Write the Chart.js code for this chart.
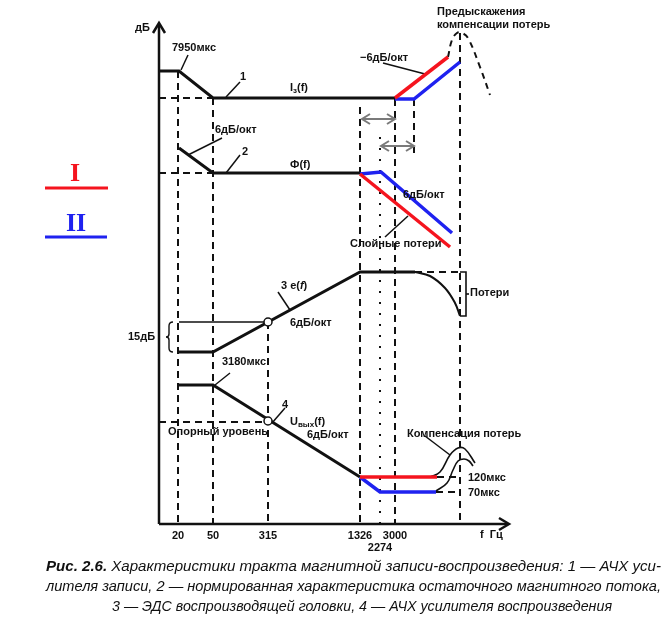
<!DOCTYPE html>
<html><head><meta charset="utf-8">
<script src="https://cdn.jsdelivr.net/npm/chart.js@4"></script>
<style>html,body{margin:0;padding:0;background:#fff}#wrap{width:668px;height:627px;position:relative}canvas{display:block}</style>
</head><body><div id="wrap"><canvas id="c" width="668" height="627"></canvas></div>
<script>
// ---- frequency marks (schematic x positions) ----
const freqLabels = ['20','50','315','1326','2274','3000'];
const freqPos    = [19, 54, 109, 201, 221, 236];

// ---- curve 1: record amplifier response I_з(f) ----
const c1      = [[0,453],[20,453],[54,426],[236,426]];
const c1Ref   = [[0,426],[54,426]];
const c1Red   = [[236,426],[289,467]];
const c1Blue  = [[236,425],[255,425],[301,462]];
const preEmph = [[289,467],[293,484],[298,491],[303,491],[309,486],[321,457],[331,429]];

// ---- curve 2: residual flux Ф(f) ----
const c2      = [[20,376],[54,351],[201,351]];
const c2Ref   = [[0,351],[54,351]];
const c2Blue  = [[201,350],[222,352],[293,291]];
const c2Red   = [[201,350],[291,277]];

// ---- curve 3: head EMF e(f) ----
const c3      = [[20,172],[54,172],[201,252],[256,252]];
const c3Loss  = [[256,252],[271,248],[286,236],[296,221],[301,208]];
const c3Ideal = [[256,252],[301,252]];
const c3Brace = [[301,252],[307,252],[307,208],[301,208]];
const c3Nub   = [[307,230],[310,230]];
const c3Level = [[20,202],[109,202]];

// ---- curve 4: playback amplifier U_вых(f) ----
const c4        = [[20,139],[54,139],[201,47]];
const c4Red     = [[201,47],[278,47]];
const c4Blue    = [[201,47],[221,32],[277,32]];
const c4RedDash = [[278,47],[298,47]];
const c4BlueDash= [[277,32],[298,32]];
const refLevel  = [[0,102],[109,102]];
const comp120   = [[271,47],[281,52],[291,69],[299,76],[306,75],[316,61]];
const comp70    = [[277,33],[288,41],[294,54],[299,63],[305,65],[310,63],[314,58]];
const markers   = [[109,202],[109,103]];

// ---- guide lines [x, yTop, yBottom] ----
const guides = [[19,453,0],[54,426,0],[109,202,0],[201,417,0],[236,425,0],[255,425,371],[301,491,0]];
const guide2274 = [[221,387],[221,0]];
const spans = [[203,236,405],[222,255,378]];

// ---- leader lines ----
const leaders = [
  [[29,469],[22,454]], [[81,442],[67,427]], [[63,386],[29,369]], [[81,369],[67,351]],
  [[224,461],[266,450]], [[226,287],[249,308]], [[119,232],[131,214]], [[56,139],[71,151]],
  [[113,101],[126,116]], [[266,88],[291,69]]
];

const RED = '#f5141e', BLUE = '#1f22f0', BLK = '#111';
const pts = a => a.map(p => ({x:p[0], y:p[1]}));
function ds(data, color, width, dash, tension){
  return {data: pts(data), borderColor: color, borderWidth: width, borderDash: dash || [],
    showLine: true, pointRadius: 0, tension: tension || 0, clip: false, fill: false,
    borderCapStyle: 'butt', borderJoinStyle: 'miter'};
}
const datasets = [];
datasets.push({data: pts(markers), showLine:false, pointRadius:4, pointBorderWidth:1.5,
  pointBackgroundColor:'#fff', pointBorderColor:BLK, clip:false});
[c1Red, c2Red, c4Red].forEach(d => datasets.push(ds(d, RED, 3.5)));
[c1Blue, c2Blue, c4Blue].forEach(d => datasets.push(ds(d, BLUE, 3.5)));
[c1, c2, c3, c4].forEach(d => datasets.push(ds(d, BLK, 3)));
datasets.push(ds(c3Loss, BLK, 2, null, 0.4));
datasets.push(ds(comp120, BLK, 1.6, null, 0.4));
datasets.push(ds(comp70, BLK, 1.6, null, 0.4));
datasets.push(ds(preEmph, BLK, 2, [6,5], 0.4));
[c1Ref, c2Ref, c3Ideal, refLevel, c4RedDash, c4BlueDash].forEach(d => datasets.push(ds(d, BLK, 2, [7,5])));
datasets.push(ds(c3Brace, BLK, 1.6));
datasets.push(ds(c3Nub, BLK, 1.6));
datasets.push(ds(c3Level, BLK, 1.6));
guides.forEach(g => datasets.push(ds([[g[0],g[1]],[g[0],g[2]]], BLK, 2, [7,5])));
datasets.push(ds(guide2274, BLK, 2, [2,9]));
leaders.forEach(l => datasets.push(ds(l, BLK, 1.5)));

const FONT = '"Liberation Sans", Arial, sans-serif';
const notes = [
  {x:-9,  y:496, r:[{t:'дБ'}], a:'right'},
  {x:13,  y:476, r:[{t:'7950мкс'}]},
  {x:84,  y:447, r:[{t:'1'}], a:'center'},
  {x:131, y:436, r:[{t:'I'},{t:'з',sub:1},{t:'(f)'}]},
  {x:56,  y:394, r:[{t:'6дБ/окт'}]},
  {x:86,  y:372, r:[{t:'2'}], a:'center'},
  {x:131, y:359, r:[{t:'Ф(f)'}]},
  {x:201, y:466, r:[{t:'−6дБ/окт'}]},
  {x:278, y:512, r:[{t:'Предыскажения'}]},
  {x:278, y:499, r:[{t:'компенсации потерь'}]},
  {x:244, y:329, r:[{t:'6дБ/окт'}]},
  {x:191, y:280, r:[{t:'Слойные потери'}]},
  {x:122, y:238, r:[{t:'3 e('},{t:'f',it:1},{t:')'}]},
  {x:131, y:201, r:[{t:'6дБ/окт'}]},
  {x:311, y:231, r:[{t:'Потери'}]},
  {x:-31, y:187, r:[{t:'15дБ'}]},
  {x:63,  y:162, r:[{t:'3180мкс'}]},
  {x:126, y:119, r:[{t:'4'}], a:'center'},
  {x:131, y:102, r:[{t:'U'},{t:'вых',sub:1},{t:'(f)'}]},
  {x:148, y:89,  r:[{t:'6дБ/окт'}]},
  {x:9,   y:92,  r:[{t:'Опорный уровень'}]},
  {x:248, y:90,  r:[{t:'Компенсация потерь'}]},
  {x:309, y:46,  r:[{t:'120мкс'}]},
  {x:309, y:31,  r:[{t:'70мкс'}]},
  {x:321, y:-11, r:[{t:'f  Гц'}]}
];
const captionLines = [
  {runs:[{t:'Рис. 2.6.', b:1},{t:' Характеристики тракта магнитной записи-воспроизведения: 1 — АЧХ уси-'}], x0:46, x1:661, y:567},
  {runs:[{t:'лителя записи, 2 — нормированная характеристика остаточного магнитного потока,'}], x0:46, x1:661, y:587},
  {runs:[{t:'3 — ЭДС воспроизводящей головки, 4 — АЧХ усилителя воспроизведения'}], x0:112, x1:612, y:607}
];

function runFont(r, size){
  return (r.it ? 'italic ' : '') + 'bold ' + (r.sub ? Math.round(size*0.7) : size) + 'px ' + FONT;
}
function drawRuns(ctx, runs, x, y, align, size){
  let w = 0;
  runs.forEach(r => { ctx.font = runFont(r,size); w += ctx.measureText(r.t).width; });
  let cx = align === 'center' ? x - w/2 : align === 'right' ? x - w : x;
  ctx.textBaseline = 'middle'; ctx.textAlign = 'left';
  runs.forEach(r => { ctx.font = runFont(r,size); ctx.fillText(r.t, cx, y + (r.sub ? 3 : 0)); cx += ctx.measureText(r.t).width; });
}
function chevron(ctx, tx, ty, dx, dy, len, half){
  const nx = -dy, ny = dx;
  ctx.beginPath();
  ctx.moveTo(tx - dx*len + nx*half, ty - dy*len + ny*half);
  ctx.lineTo(tx, ty);
  ctx.lineTo(tx - dx*len - nx*half, ty - dy*len - ny*half);
  ctx.stroke();
}

const deco = {
  id:'deco',
  afterDatasetsDraw(chart){
    const ctx = chart.ctx, xs = chart.scales.x, ys = chart.scales.y;
    const X = v => xs.getPixelForValue(v), Y = v => ys.getPixelForValue(v);
    ctx.save();
    // axes
    ctx.strokeStyle = BLK; ctx.lineWidth = 2.5; ctx.setLineDash([]);
    ctx.beginPath(); ctx.moveTo(X(0), Y(0)); ctx.lineTo(X(0), Y(500)); ctx.stroke();
    ctx.beginPath(); ctx.moveTo(X(0), Y(0)); ctx.lineTo(X(349), Y(0)); ctx.stroke();
    chevron(ctx, X(0), Y(500)-1, 0, -1, 10, 6);
    chevron(ctx, X(349)+1, Y(0), 1, 0, 10, 6);
    // gray double arrows
    ctx.strokeStyle = '#7a7a7a'; ctx.lineWidth = 2;
    spans.forEach(s => {
      ctx.beginPath(); ctx.moveTo(X(s[0]), Y(s[2])); ctx.lineTo(X(s[1]), Y(s[2])); ctx.stroke();
      chevron(ctx, X(s[0]), Y(s[2]), -1, 0, 8, 5);
      chevron(ctx, X(s[1]), Y(s[2]), 1, 0, 8, 5);
    });
    // 15 dB brace
    ctx.strokeStyle = BLK; ctx.lineWidth = 1.4;
    const bx = X(10), bt = Y(202), bb = Y(172), bm = (bt+bb)/2;
    ctx.beginPath();
    ctx.moveTo(bx+4, bt); ctx.quadraticCurveTo(bx, bt, bx, bt+4);
    ctx.lineTo(bx, bm-3); ctx.quadraticCurveTo(bx, bm, bx-3, bm);
    ctx.quadraticCurveTo(bx, bm, bx, bm+3);
    ctx.lineTo(bx, bb-4); ctx.quadraticCurveTo(bx, bb, bx+4, bb);
    ctx.stroke();
    // text
    ctx.fillStyle = BLK;
    notes.forEach(n => drawRuns(ctx, n.r, X(n.x), Y(n.y), n.a || 'left', 11));
    freqLabels.forEach((l, i) => {
      ctx.font = 'bold 11px ' + FONT; ctx.textAlign = 'center'; ctx.textBaseline = 'middle';
      ctx.fillText(l, X(freqPos[i]), Y(0) + (l === '2274' ? 24 : 12));
    });
    // legend I / II
    ctx.font = 'bold 26px "Liberation Serif", "DejaVu Serif", serif';
    ctx.textAlign = 'center'; ctx.textBaseline = 'alphabetic';
    ctx.fillStyle = RED; ctx.fillText('I', 75, 181);
    ctx.fillStyle = BLUE; ctx.fillText('II', 76, 231);
    ctx.lineWidth = 3;
    ctx.strokeStyle = RED; ctx.beginPath(); ctx.moveTo(45,188); ctx.lineTo(108,188); ctx.stroke();
    ctx.strokeStyle = BLUE; ctx.beginPath(); ctx.moveTo(45,237); ctx.lineTo(107,237); ctx.stroke();
    // caption
    ctx.fillStyle = BLK; ctx.textBaseline = 'middle'; ctx.textAlign = 'left';
    const cf = r => (r.b ? 'italic bold ' : 'italic ') + '15px "Liberation Sans Narrow", "Liberation Sans", Arial, sans-serif';
    captionLines.forEach(L => {
      let w = 0; L.runs.forEach(r => { ctx.font = cf(r); w += ctx.measureText(r.t).width; });
      const k = (L.x1 - L.x0) / w;
      ctx.save(); ctx.translate(L.x0, L.y); ctx.scale(k, 1);
      let cx = 0; L.runs.forEach(r => { ctx.font = cf(r); ctx.fillText(r.t, cx, 0); cx += ctx.measureText(r.t).width; });
      ctx.restore();
    });
    ctx.restore();
  }
};

new Chart(document.getElementById('c'), {
  type: 'scatter',
  data: {datasets},
  options: {
    responsive: false, animation: false, devicePixelRatio: 1,
    layout: {padding: {left:159, right:160, top:24, bottom:103}},
    scales: {
      x: {type:'linear', min:0, max:349, display:false},
      y: {type:'linear', min:0, max:500, display:false}
    },
    plugins: {legend:{display:false}, tooltip:{enabled:false}, title:{display:false}},
    elements: {point:{radius:0}}
  },
  plugins: [deco]
});
</script>
</body></html>
